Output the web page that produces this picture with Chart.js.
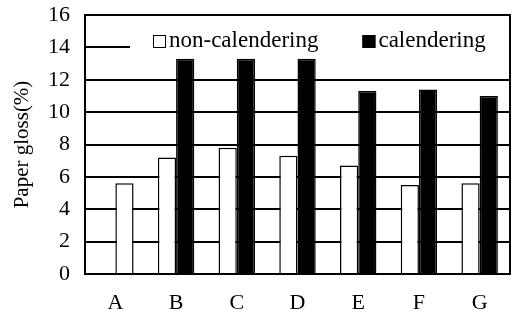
<!DOCTYPE html>
<html>
<head>
<meta charset="utf-8">
<script src="https://cdn.jsdelivr.net/npm/chart.js@4"></script>
<style>
  html, body { margin: 0; padding: 0; background: #fff; }
  #wrap { width: 512px; height: 321px; }
</style>
</head>
<body>
<div id="wrap"><canvas id="gloss"></canvas></div>
<script>
const labels = ["A", "B", "C", "D", "E", "F", "G"];
// in the source figure the white bar of A sits in the second slot
const nonCalendering = [null, 7.2, 7.8, 7.3, 6.7, 5.5, 5.6];
const calendering = [5.6, 13.3, 13.3, 13.3, 11.3, 11.4, 11.0];
const calenderingFill = ["#ffffff", "#000000", "#000000", "#000000", "#000000", "#000000", "#000000"];

const serif = "'Liberation Serif', 'DejaVu Serif', serif";

// white legend box over the top of the plot, with the two keys drawn in it
const legendBox = {
  id: "legendBox",
  beforeDatasetsDraw(chart) {
    const { ctx, chartArea, scales } = chart;
    const y12 = scales.y.getPixelForValue(12);
    ctx.save();
    ctx.fillStyle = "#fff";
    ctx.fillRect(chartArea.left + 45, chartArea.top, chartArea.right - chartArea.left - 45, y12 - chartArea.top - 2);
    ctx.restore();
  },
  afterDatasetsDraw(chart) {
    const { ctx, chartArea } = chart;
    ctx.save();
    ctx.font = "23px " + serif;
    ctx.textBaseline = "middle";
    let x = chartArea.left + 68;
    const y = chartArea.top + 26;
    chart.data.datasets.forEach((ds, i) => {
      ctx.fillStyle = i === 0 ? "#ffffff" : "#000000";
      ctx.fillRect(x, y - 6, 13, 13);
      ctx.strokeStyle = "#000";
      ctx.lineWidth = 1;
      ctx.strokeRect(x + 0.5, y - 5.5, 12, 12);
      ctx.fillStyle = "#000";
      ctx.fillText(ds.label, x + 16, y);
      x += 16 + ctx.measureText(ds.label).width + 44;
    });
    ctx.restore();
  },
  afterDraw(chart) {
    const { ctx, chartArea } = chart;
    ctx.save();
    ctx.strokeStyle = "#000";
    ctx.lineWidth = 2;
    ctx.strokeRect(chartArea.left, chartArea.top, chartArea.right - chartArea.left, chartArea.bottom - chartArea.top);
    ctx.restore();
  },
};

new Chart(document.getElementById("gloss"), {
  type: "bar",
  data: {
    labels: labels,
    datasets: [
      {
        label: "non-calendering",
        data: nonCalendering,
        backgroundColor: "#ffffff",
        borderColor: "#000000",
        borderWidth: 1.5,
      },
      {
        label: "calendering",
        data: calendering,
        backgroundColor: calenderingFill,
        borderColor: "#000000",
        borderWidth: 1.5,
      },
    ],
  },
  options: {
    responsive: true,
    maintainAspectRatio: false,
    animation: false,
    categoryPercentage: 0.6,
    barPercentage: 1.0,
    layout: { padding: { top: 15, right: 2, left: 6, bottom: 7 } },
    plugins: {
      legend: { display: false },
      tooltip: { enabled: false },
    },
    scales: {
      x: {
        grid: { display: false },
        border: { color: "#000", width: 2 },
        ticks: { color: "#000", font: { family: serif, size: 22 }, padding: 8, maxRotation: 0 },
        afterFit: (scale) => { scale.height = 40; },
      },
      y: {
        min: 0,
        max: 16,
        ticks: { stepSize: 2, autoSkip: false, color: "#000", font: { family: serif, size: 22 }, padding: 15 },
        grid: { color: "#000", lineWidth: 2, drawTicks: false },
        border: { color: "#000", width: 2 },
        title: {
          display: true,
          text: "Paper gloss(%)",
          color: "#000",
          font: { family: serif, size: 21 },
          padding: { bottom: 6 },
        },
        afterFit: (scale) => {
          scale.width = 79;
          scale.paddingTop = 0;
          scale.paddingBottom = 0;
        },
      },
    },
  },
  plugins: [legendBox],
});
</script>
</body>
</html>
